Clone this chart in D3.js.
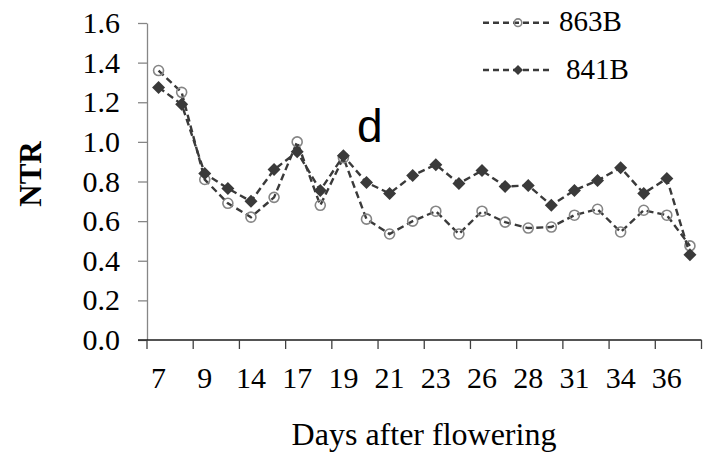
<!DOCTYPE html>
<html lang="en">
<head>
  <meta charset="UTF-8">
  <title>NTR - days after flowering</title>
  <style>
    body { margin: 0; background: #fff; }
    svg { display: block; }
  </style>
</head>
<body>
  <svg id="chart" width="712" height="453"></svg>

  <script src="https://d3js.org/d3.v7.min.js"></script>
  <script>
    // days after flowering (only every 2nd one gets a label on the axis)
    const days = ['7', '8', '9', '12', '14', '15', '17', '18', '19', '20', '21', '22',
      '23', '25', '26', '27', '28', '30', '31', '33', '34', '35', '36', '38'];

    const ntr863B = [1.36, 1.25, 0.81, 0.69, 0.62, 0.72, 1.00, 0.68, 0.92, 0.61, 0.535, 0.60,
      0.65, 0.535, 0.65, 0.595, 0.565, 0.57, 0.63, 0.66, 0.545, 0.655, 0.63, 0.475];
    const ntr841B = [1.275, 1.19, 0.84, 0.765, 0.70, 0.86, 0.95, 0.755, 0.93, 0.795, 0.74, 0.83,
      0.885, 0.79, 0.855, 0.775, 0.78, 0.68, 0.755, 0.805, 0.87, 0.74, 0.815, 0.43];

    const yTicks = [0, 0.2, 0.4, 0.6, 0.8, 1.0, 1.2, 1.4, 1.6];
    const seriesNames = ['863B', '841B'];

    const svg = d3.select('#chart');
    const serif = '"Liberation Serif", "Times New Roman", serif';
    const lineCol = '#3a3a3a';

    const x = d3.scaleBand().domain(days).range([147, 701.5]).padding(0);
    const y = d3.scaleLinear().domain([0, 1.6]).range([340, 23]);
    const cx = d => x(d) + x.bandwidth() / 2;

    // y axis
    const yAxis = svg.append('g')
      .attr('transform', `translate(${x.range()[0]},0)`)
      .call(d3.axisLeft(y).tickValues(yTicks).tickFormat(d3.format('.1f'))
        .tickSize(9).tickSizeOuter(0).tickPadding(18));
    yAxis.select('.domain').attr('stroke', '#868686').attr('stroke-width', 1.3);
    yAxis.selectAll('.tick line').attr('stroke', '#868686').attr('stroke-width', 1.3);
    yAxis.selectAll('.tick text')
      .attr('font-family', serif).attr('font-size', 30).attr('fill', '#000');

    // x axis: line, tick marks every 2 categories, labels on even categories
    const xg = svg.append('g');
    xg.append('line')
      .attr('x1', x.range()[0] - 9).attr('x2', x.range()[1])
      .attr('y1', y(0)).attr('y2', y(0))
      .attr('stroke', '#1a1a1a').attr('stroke-width', 1.3);
    const tickIdx = d3.range(0, days.length + 1, 2);
    xg.selectAll('line.tk').data(tickIdx).join('line')
      .attr('class', 'tk')
      .attr('x1', i => x.range()[0] + i * x.bandwidth())
      .attr('x2', i => x.range()[0] + i * x.bandwidth())
      .attr('y1', y(0)).attr('y2', y(0) + 9)
      .attr('stroke', '#404040').attr('stroke-width', 1.3);
    xg.selectAll('text').data(days.filter((d, i) => i % 2 === 0)).join('text')
      .attr('x', d => cx(d)).attr('y', 388)
      .attr('text-anchor', 'middle')
      .attr('font-family', serif).attr('font-size', 30)
      .text(d => d);

    // axis titles
    svg.append('text')
      .attr('x', 424).attr('y', 445)
      .attr('text-anchor', 'middle')
      .attr('font-family', serif).attr('font-size', 32)
      .text('Days after flowering');
    svg.append('text')
      .attr('transform', 'translate(41,174) rotate(-90)')
      .attr('text-anchor', 'middle')
      .attr('font-family', serif).attr('font-size', 31).attr('font-weight', 'bold')
      .text('NTR');

    // panel letter
    svg.append('text')
      .attr('x', 357).attr('y', 142)
      .attr('font-family', '"Liberation Sans", Arial, sans-serif').attr('font-size', 46)
      .text('d');

    const line = d3.line().x((v, i) => cx(days[i])).y(v => y(v));
    const diamond = s => `M0,${-s}L${s},0L0,${s}L${-s},0Z`;

    // 863B: open grey circles
    svg.append('path').datum(ntr863B)
      .attr('d', line).attr('fill', 'none')
      .attr('stroke', lineCol).attr('stroke-width', 2.4).attr('stroke-dasharray', '7,4');
    svg.selectAll('circle.s1').data(ntr863B).join('circle')
      .attr('class', 's1')
      .attr('cx', (v, i) => cx(days[i])).attr('cy', v => y(v)).attr('r', 5)
      .attr('fill', 'none').attr('stroke', '#858585').attr('stroke-width', 1.6);

    // 841B: filled dark diamonds
    svg.append('path').datum(ntr841B)
      .attr('d', line).attr('fill', 'none')
      .attr('stroke', lineCol).attr('stroke-width', 2.4).attr('stroke-dasharray', '7,4');
    svg.selectAll('path.s2').data(ntr841B).join('path')
      .attr('class', 's2')
      .attr('transform', (v, i) => `translate(${cx(days[i])},${y(v)})`)
      .attr('d', diamond(6.5))
      .attr('fill', lineCol);

    // legend
    const leg = svg.append('g');
    const legY = [22.7, 70];
    const legTextX = [559, 566];
    seriesNames.forEach((name, k) => {
      leg.append('line')
        .attr('x1', 483).attr('x2', 552)
        .attr('y1', legY[k]).attr('y2', legY[k])
        .attr('stroke', lineCol).attr('stroke-width', 2.4).attr('stroke-dasharray', '6,4');
      if (k === 0) {
        leg.append('circle')
          .attr('cx', 518).attr('cy', legY[k]).attr('r', 3.8)
          .attr('fill', 'none').attr('stroke', '#858585').attr('stroke-width', 1.6);
      } else {
        leg.append('path')
          .attr('transform', `translate(518,${legY[k]})`)
          .attr('d', diamond(5)).attr('fill', lineCol);
      }
      leg.append('text')
        .attr('x', legTextX[k]).attr('y', legY[k] + 8.5)
        .attr('font-family', serif).attr('font-size', 29)
        .text(name);
    });
  </script>
</body>
</html>
